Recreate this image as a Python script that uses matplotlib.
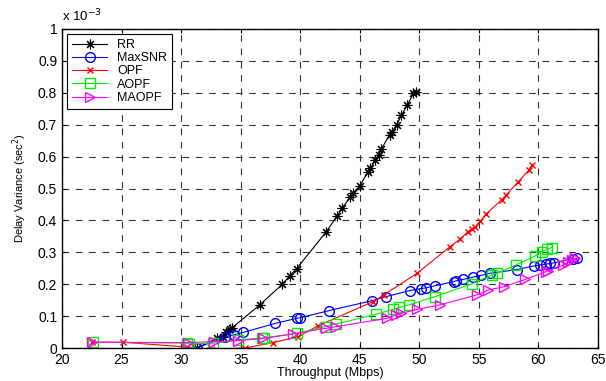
import matplotlib
matplotlib.use("Agg")
import matplotlib.pyplot as plt

# Throughput (Mbps) and delay variance (x 1e-3 sec^2)
rr_x = [31.3, 33.0, 33.5, 33.8, 34.1, 34.3, 36.6, 38.5, 39.1, 39.7, 42.2, 43.1, 43.5,
        44.2, 44.4, 45.0, 45.7, 45.9, 46.3, 46.6, 46.8, 47.5, 47.7, 48.1, 48.5, 49.0,
        49.5, 49.7]
rr_y = [0.0, 0.030, 0.036, 0.050, 0.059, 0.064, 0.135, 0.200, 0.226, 0.249, 0.365, 0.414,
        0.438, 0.472, 0.485, 0.508, 0.553, 0.563, 0.589, 0.605, 0.623, 0.668, 0.678,
        0.699, 0.730, 0.762, 0.798, 0.803]

snr_x = [31.3, 33.7, 34.4, 35.2, 37.9, 39.7, 40.0, 42.4, 46.0, 47.2, 49.2, 50.1, 50.6,
         51.3, 52.9, 53.1, 53.7, 54.5, 55.2, 55.9, 58.2, 59.6, 60.1, 60.6, 61.0, 61.3,
         62.9, 63.2]
snr_y = [0.0, 0.035, 0.041, 0.049, 0.077, 0.093, 0.095, 0.117, 0.148, 0.161, 0.180, 0.186,
         0.189, 0.195, 0.208, 0.211, 0.215, 0.222, 0.228, 0.234, 0.246, 0.257, 0.260,
         0.263, 0.265, 0.267, 0.280, 0.281]

opf_x = [22.5, 25.1, 30.5, 32.5, 35.4, 37.7, 39.8, 41.5, 46.1, 47.0, 49.8, 52.6, 53.4,
         54.1, 54.4, 54.7, 55.1, 55.6, 56.9, 57.3, 58.3, 59.2, 59.5]
opf_y = [0.018, 0.018, 0.003, -0.004, 0.0, 0.017, 0.035, 0.070, 0.145, 0.166, 0.234,
         0.318, 0.341, 0.365, 0.374, 0.380, 0.397, 0.420, 0.464, 0.480, 0.521, 0.558, 0.574]

aopf_x = [22.6, 30.5, 30.7, 32.7, 34.8, 36.8, 37.0, 39.7, 42.1, 43.0, 46.4, 47.8, 48.3,
          49.1, 51.3, 54.4, 56.1, 56.5, 58.1, 59.7, 60.3, 60.7, 61.1]
aopf_y = [0.018, 0.015, 0.013, 0.015, 0.025, 0.032, 0.032, 0.046, 0.067, 0.075, 0.106,
          0.121, 0.127, 0.135, 0.161, 0.201, 0.229, 0.234, 0.260, 0.288, 0.302, 0.309, 0.315]

maopf_x = [22.5, 30.6, 32.8, 34.8, 36.9, 39.4, 42.2, 43.0, 47.3, 48.0, 48.5, 49.8, 51.7,
           54.8, 55.8, 57.1, 58.9, 60.6, 60.8, 62.1, 62.5, 62.8, 63.1]
maopf_y = [0.018, 0.017, 0.020, 0.023, 0.030, 0.044, 0.062, 0.067, 0.093, 0.103, 0.109,
           0.121, 0.135, 0.166, 0.182, 0.192, 0.215, 0.239, 0.242, 0.260, 0.270, 0.276, 0.281]

x_ticks = [20, 25, 30, 35, 40, 45, 50, 55, 60, 65]
y_ticks = [0, 0.1, 0.2, 0.3, 0.4, 0.5, 0.6, 0.7, 0.8, 0.9, 1]
y_labels = ["0", "0.1", "0.2", "0.3", "0.4", "0.5", "0.6", "0.7", "0.8", "0.9", "1"]

plt.rcParams['font.family'] = ['Liberation Sans', 'DejaVu Sans']

fig = plt.figure(figsize=(6.06, 3.81), dpi=100)
ax = fig.add_axes([62 / 606, 33 / 381, 536 / 606, 319 / 381])

lw = 0.8
# matlab style asterisk for RR
ax.plot(rr_x, rr_y, color="black", marker=(8, 2, 0), markersize=7, mew=0.8, lw=lw,
        label="RR")
ax.plot(snr_x, snr_y, color="blue", marker="o", markersize=7, mfc="none", lw=lw,
        label="MaxSNR")
ax.plot(opf_x, opf_y, color="red", marker="x", markersize=4, lw=lw, label="OPF")
ax.plot(aopf_x, aopf_y, color="#00ee00", marker="s", markersize=7, mfc="none", lw=lw,
        label="AOPF")
ax.plot(maopf_x, maopf_y, color="magenta", marker=">", markersize=7, mfc="none", lw=lw,
        label="MAOPF")

ax.set_xlim(20, 65)
ax.set_ylim(0, 1)
ax.set_xticks(x_ticks)
ax.set_yticks(y_ticks)
ax.set_yticklabels(y_labels)
ax.tick_params(direction="in", top=True, right=True, labelsize=10, length=3)
ax.grid(True, color="#333333", linestyle=(0, (6, 6)), linewidth=0.8)
for s in ax.spines.values():
    s.set_linewidth(1.0)

ax.set_xlabel("Throughput (Mbps)", fontsize=9, labelpad=0)
ax.set_ylabel("Delay Variance (sec$^2$)", fontsize=8, labelpad=6)
ax.text(0.0, 1.015, "x 10$^{-3}$", transform=ax.transAxes, fontsize=9.5,
        ha="left", va="bottom")

leg = ax.legend(loc="upper left", fontsize=9, frameon=True, fancybox=False,
                edgecolor="black", framealpha=1, borderaxespad=0.4,
                handlelength=2.8, labelspacing=0.1, borderpad=0.4)
leg.get_frame().set_linewidth(0.8)

fig.savefig("out.png", dpi=100)
